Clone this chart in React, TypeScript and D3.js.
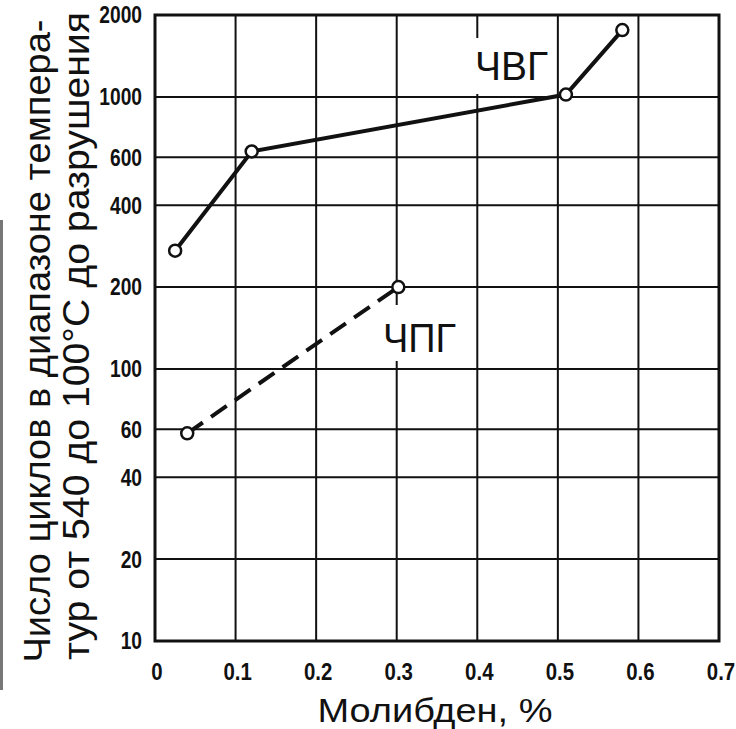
import React from 'react';
import * as d3 from 'd3';

// molybdenum content, % / cycles to failure
const cvgMo = [0.025, 0.12, 0.51, 0.58];
const cvgCycles = [272, 630, 1020, 1760];
const cpgMo = [0.04, 0.302];
const cpgCycles = [58, 200];

const xTicks = [0, 0.1, 0.2, 0.3, 0.4, 0.5, 0.6, 0.7];
const yTicks = [10, 20, 40, 60, 100, 200, 400, 600, 1000, 2000];

const W = 736;
const H = 729;
const margin = { top: 15, right: 17, bottom: 88, left: 155 };

const App = () => {
  const x = d3.scaleLinear().domain([0, 0.7]).range([margin.left, W - margin.right]);
  const y = d3.scaleLog().domain([10, 2000]).range([H - margin.bottom, margin.top]);

  const line = d3.line<[number, number]>().x((d) => x(d[0])).y((d) => y(d[1]));
  const cvg = cvgMo.map((m, i) => [m, cvgCycles[i]] as [number, number]);
  const cpg = cpgMo.map((m, i) => [m, cpgCycles[i]] as [number, number]);

  const tickFont = "'Liberation Sans', Arial, sans-serif";
  const labelFont = "'Liberation Sans', Arial, sans-serif";

  return (
    <svg width={W} height={H} style={{ position: 'absolute', left: 0, top: 0, background: '#fff' }}>
      {/* scan edge */}
      <rect x={0} y={220} width={3} height={470} fill="#777" />

      {/* grid */}
      <g stroke="#111" strokeWidth={2}>
        {xTicks.map((t) => (
          <line key={'vx' + t} x1={x(t)} x2={x(t)} y1={y(2000)} y2={y(10)} />
        ))}
        {yTicks.map((t) => (
          <line key={'hy' + t} x1={x(0)} x2={x(0.7)} y1={y(t)} y2={y(t)} />
        ))}
      </g>
      <rect x={x(0)} y={y(2000)} width={x(0.7) - x(0)} height={y(10) - y(2000)}
        fill="none" stroke="#111" strokeWidth={3} />

      {/* label backgrounds */}
      <rect x={470} y={38} width={82} height={56} fill="#fff" />
      <rect x={378} y={305} width={84} height={56} fill="#fff" />

      {/* series */}
      <path d={line(cvg) ?? ''} fill="none" stroke="#111" strokeWidth={4} />
      <path d={line(cpg) ?? ''} fill="none" stroke="#111" strokeWidth={4} strokeDasharray="19 10" />
      {[...cvg, ...cpg].map((d, i) => (
        <circle key={i} cx={x(d[0])} cy={y(d[1])} r={6} fill="#fff" stroke="#111" strokeWidth={2.5} />
      ))}

      {/* tick labels (condensed) */}
      <g fontFamily={tickFont} fontWeight="bold" fontSize={24} fill="#111">
        {yTicks.map((t) => (
          <g key={'yl' + t} transform={`translate(142,${y(t)}) scale(0.8,1)`}>
            <text dy="0.35em" textAnchor="end">{t}</text>
          </g>
        ))}
        {xTicks.map((t) => (
          <g key={'xl' + t} transform={`translate(${x(t) + 2},680) scale(0.85,1)`}>
            <text textAnchor="middle">{t === 0 ? '0' : t.toFixed(1)}</text>
          </g>
        ))}
      </g>

      {/* series labels */}
      <text x={475} y={80} fontFamily={labelFont} fontSize={40} textLength={73} lengthAdjust="spacingAndGlyphs" fill="#111">ЧВГ</text>
      <text x={383} y={352} fontFamily={labelFont} fontSize={40} textLength={73} lengthAdjust="spacingAndGlyphs" fill="#111">ЧПГ</text>

      {/* axis titles */}
      <text x={435} y={722} textAnchor="middle" fontFamily={labelFont} fontSize={34}
        textLength={235} lengthAdjust="spacingAndGlyphs" fill="#111">Молибден, %</text>
      <g transform="translate(50,341) rotate(-90)">
        <text x={0} y={0} textAnchor="middle" fontFamily={labelFont} fontSize={37}
          textLength={643} lengthAdjust="spacingAndGlyphs" fill="#111">Число циклов в диапазоне темпера-</text>
      </g>
      <g transform="translate(89,336) rotate(-90)">
        <text x={0} y={0} textAnchor="middle" fontFamily={labelFont} fontSize={37}
          textLength={648} lengthAdjust="spacingAndGlyphs" fill="#111">тур от 540 до 100°С до разрушения</text>
      </g>
    </svg>
  );
};

export default App;
